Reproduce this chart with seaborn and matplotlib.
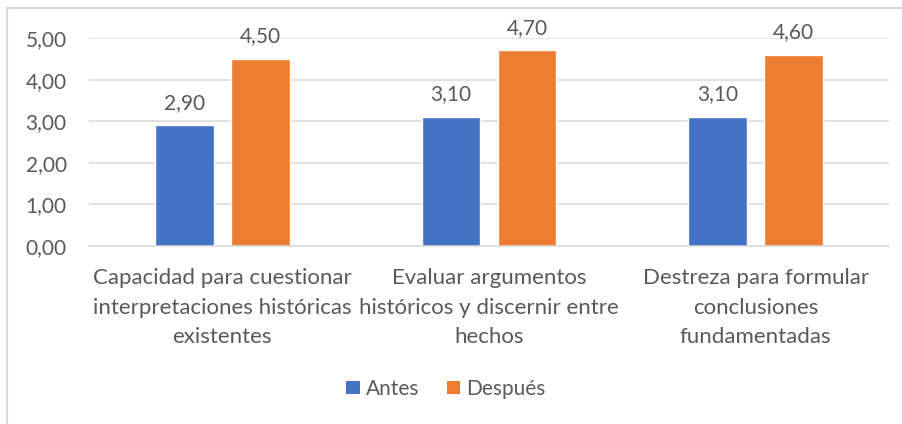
import pandas as pd
import seaborn as sns
import matplotlib.pyplot as plt
from matplotlib.patches import Rectangle, Patch

# Data
categories = [
    'Capacidad para cuestionar\ninterpretaciones históricas\nexistentes',
    'Evaluar argumentos\nhistóricos y discernir entre\nhechos',
    'Destreza para formular\nconclusiones\nfundamentadas',
]
antes = [2.90, 3.10, 3.10]
despues = [4.50, 4.70, 4.60]
series = ['Antes', 'Después']
colors = ['#4472C4', '#ED7D31']
text_color = '#595959'
grid_color = '#D9D9D9'
fs = 15

df = pd.DataFrame({
    'cat': categories * 2,
    'valor': antes + despues,
    'serie': [series[0]] * 3 + [series[1]] * 3,
})

sns.set_style('white')
plt.rcParams['font.family'] = ['Lato', 'DejaVu Sans']

fig = plt.figure(figsize=(9.03, 4.24), dpi=100)
ax = fig.add_axes([89 / 903, 178 / 424, 800 / 903, 208 / 424])

sns.barplot(data=df, x='cat', y='valor', hue='serie', palette=colors,
            width=0.57, gap=0.224, ax=ax, legend=False, saturation=1)

# Value labels with comma decimals
for cont in ax.containers:
    ax.bar_label(cont, labels=[f'{b.get_height():.2f}'.replace('.', ',') for b in cont],
                 padding=9, fontsize=fs, color=text_color)

ax.set_ylim(0, 5)
ax.set_yticks([0, 1, 2, 3, 4, 5])
ax.set_yticklabels([f'{v:.2f}'.replace('.', ',') for v in range(6)])
ax.set_xlim(-0.5, 2.5)
ax.set_xlabel('')
ax.set_ylabel('')
ax.yaxis.grid(True, color=grid_color, linewidth=1.1)
ax.set_axisbelow(True)
for s in ['top', 'right', 'left']:
    ax.spines[s].set_visible(False)
ax.spines['bottom'].set_color(grid_color)
ax.spines['bottom'].set_linewidth(1.1)
ax.tick_params(axis='y', length=0, pad=16, labelsize=fs, labelcolor=text_color)
ax.tick_params(axis='x', length=0, pad=16, labelsize=16, labelcolor=text_color)
for lab in ax.get_xticklabels():
    lab.set_linespacing(1.6)

# Legend at the bottom
handles = [Patch(facecolor=c, edgecolor='none') for c in colors]
fig.legend(handles, series, loc='center', bbox_to_anchor=(0.494, 0.083), ncol=2,
           frameon=False, fontsize=fs, labelcolor=text_color,
           handlelength=0.65, handleheight=0.65, handletextpad=0.3, columnspacing=1.3)

# Chart border (only top/left visible in the crop)
fig.patches.append(Rectangle((7 / 903, -0.1), 1.2, (424 - 8) / 424 + 0.1,
                             transform=fig.transFigure, fill=False,
                             edgecolor=grid_color, linewidth=1.5))

fig.savefig('out.png', dpi=100)
